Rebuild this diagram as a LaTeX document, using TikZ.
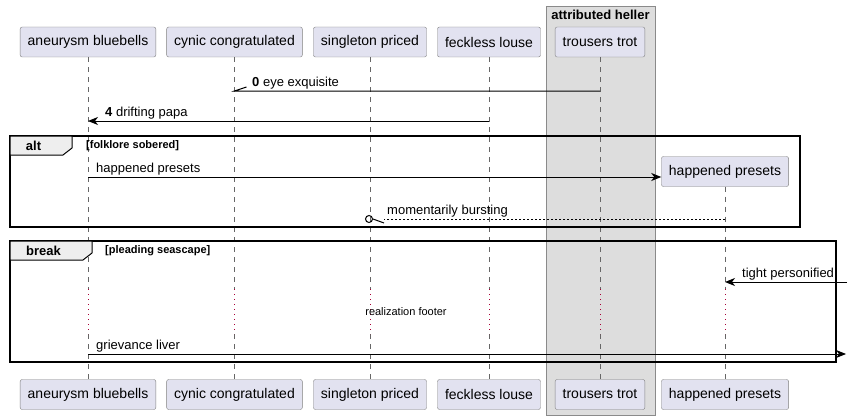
\documentclass[tikz,border=0pt]{standalone}
\usepackage{fontspec}
\setmainfont{Liberation Sans}
\usepackage{tikz}
\usetikzlibrary{positioning,arrows.meta}

\definecolor{partfill}{HTML}{E2E2F0}
\definecolor{partline}{HTML}{7F7F7F}
\definecolor{lifecol}{HTML}{666666}
\definecolor{pausecol}{HTML}{A80036}
\definecolor{grpfill}{HTML}{DDDDDD}
\definecolor{grpline}{HTML}{8A8A8A}
\definecolor{tabfill}{HTML}{EEEEEE}

\tikzset{
  part/.style={draw=partline,fill=partfill,rounded corners=2pt,minimum height=30pt,inner xsep=7.5pt,font=\fontsize{14}{16}\selectfont},
  life/.style={draw=lifecol,line width=0.8pt,dash pattern=on 5pt off 5pt},
  pause/.style={draw=pausecol,line width=0.8pt,dash pattern=on 1pt off 4pt},
  msg/.style={draw=black,line width=1pt},
  tip/.style={-{Stealth[length=10pt,width=8pt,inset=3pt]}},
  lbl/.style={anchor=base west,inner sep=0pt,font=\fontsize{13}{15}\selectfont},
  frame/.style={draw=black,line width=1.5pt},
  tab/.style={draw=black,line width=1pt,fill=tabfill},
  tabtext/.style={inner sep=0pt,font=\bfseries\fontsize{13}{15}\selectfont},
  guard/.style={anchor=west,inner sep=0pt,font=\bfseries\fontsize{11}{13}\selectfont}
}

\begin{document}
\begin{tikzpicture}[x=1pt,y=-1pt]
    \useasboundingbox (0,0) rectangle (851,420);
    % box round trousers trot
    \node [draw=grpline,fill=grpfill,minimum width=109pt,minimum height=409pt,inner sep=0pt] (grp) at (600.5,210.5) {};
    \node [tabtext,below=4pt of grp.north] (grpname) {attributed heller};

    % participants
    \node [part] (abT) at (88,42) {aneurysm bluebells};
    \node [part] (ccT) at (234.5,42) {cynic congratulated};
    \node [part] (spT) at (370,42) {singleton priced};
    \node [part] (flT) at (489,42) {feckless louse};
    \node [part] (ttT) at (600,42) {trousers trot};
    \node [part] (hpT) at (725,171.5) {happened presets};
    \node [part] (abB) at (88,394.5) {aneurysm bluebells};
    \node [part] (ccB) at (234.5,394.5) {cynic congratulated};
    \node [part] (spB) at (370,394.5) {singleton priced};
    \node [part] (flB) at (489,394.5) {feckless louse};
    \node [part] (ttB) at (600,394.5) {trousers trot};
    \node [part] (hpB) at (725,394.5) {happened presets};

    % rows
    \coordinate (r0) at (0,91);
    \coordinate (r1) at (0,121);
    \coordinate (r2) at (0,177);
    \coordinate (r3) at (0,219);
    \coordinate (r4) at (0,282);
    \coordinate (r5) at (0,354);
    \coordinate (d1) at (0,289);
    \coordinate (d2) at (0,334);

    % lifelines
    \draw[life] (abT.south) -- (abT |- d1) (abT |- d2) -- (abB.north);
    \draw[life] (ccT.south) -- (ccT |- d1) (ccT |- d2) -- (ccB.north);
    \draw[life] (spT.south) -- (spT |- d1) (spT |- d2) -- (spB.north);
    \draw[life] (flT.south) -- (flT |- d1) (flT |- d2) -- (flB.north);
    \draw[life] (ttT.south) -- (ttT |- d1) (ttT |- d2) -- (ttB.north);
    \draw[life] (hpT.south) -- (hpT |- d1) (hpT |- d2) -- (hpB.north);
    \draw[pause] (abT |- d1) -- (abT |- d2);
    \draw[pause] (ccT |- d1) -- (ccT |- d2);
    \draw[pause] (spT |- d1) -- (spT |- d2);
    \draw[pause] (flT |- d1) -- (flT |- d2);
    \draw[pause] (ttT |- d1) -- (ttT |- d2);
    \draw[pause] (hpT |- d1) -- (hpT |- d2);

    % frames
    \draw[frame] (10,136) rectangle (800,227);
    \draw[tab] (10,136) -- (72,136) -- (72,148) -- (63,155) -- (10,155) -- cycle;
    \node [tabtext] (altname) at (33.5,146) {alt};
    \node [guard] (altguard) at (86,146) {[folklore sobered]};
    \draw[frame] (10,241) rectangle (836,362);
    \draw[tab] (10,241) -- (92,241) -- (92,253) -- (83,260) -- (10,260) -- cycle;
    \node [tabtext] (brkname) at (43.5,251) {break};
    \node [guard] (brkguard) at (105,251) {[pleading seascape]};

    % messages
    \draw[msg] (ttT |- r0) -- (ccT |- r0) -- ++(12,-4);
    \node [lbl] (m0) at (252,86) {\textbf{0} eye exquisite};
    \draw[msg,tip] (flT |- r1) -- (abT |- r1);
    \node [lbl] (m1) at (105,116) {\textbf{4} drifting papa};
    \draw[msg,tip] (abT |- r2) -- (hpT.west |- r2);
    \node [lbl] (m2) at (96,172) {happened presets};
    \draw[msg,dash pattern=on 2pt off 2pt,line width=0.8pt] (hpT |- r3) -- (384,219);
    \draw[msg] (384,223) -- (373,219);
    \draw[msg] (spT |- r3) ++(-1,0) circle[radius=3.5pt];
    \node [lbl] (m3) at (387,214) {momentarily bursting};
    \coordinate (outR) at (847,282);
    \draw[msg,tip] (outR) -- (hpT |- outR);
    \node [lbl] (m4) at (742,277) {tight personified};
    \node [inner sep=0pt,font=\fontsize{11}{13}\selectfont] (dtxt) at (406,312) {realization footer};
    \coordinate (outR2) at (846,354);
    \draw[msg,tip] (abT |- r5) -- (outR2);
    \node [lbl] (m5) at (96,349) {grievance liver};
\end{tikzpicture}
\end{document}
